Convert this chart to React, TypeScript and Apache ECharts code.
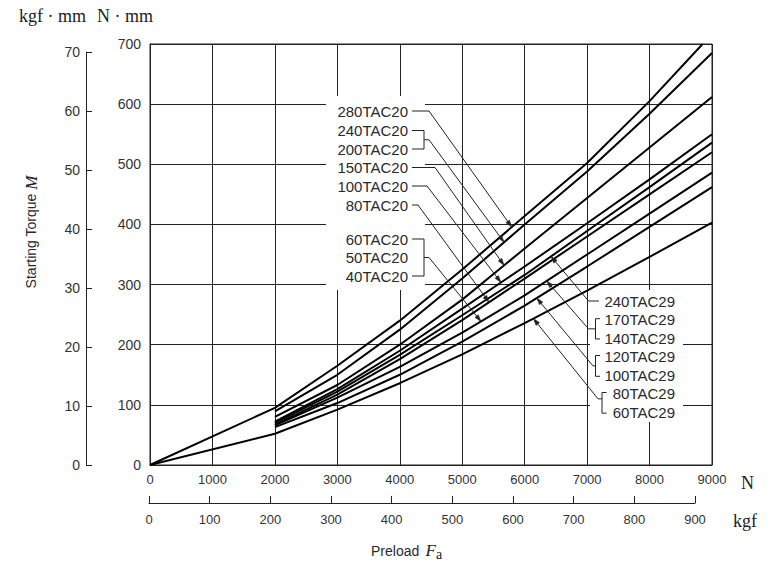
import React, { useEffect, useRef } from "react";
import * as echarts from "echarts";

// ---- data: starting torque M (N·mm) vs preload Fa (N) ----
const tac20_280: [number, number][] = [[0, 0], [2000, 95], [3000, 165], [4000, 240], [5000, 325], [6000, 414], [7000, 502], [8000, 605], [8850, 700]];
const tac20_240_200: [number, number][] = [[2000, 89], [3000, 150], [4000, 225], [5000, 310], [6000, 400], [7000, 488], [8000, 584], [9000, 685]];
const tac20_150: [number, number][] = [[2000, 80], [3000, 133], [4000, 200], [5000, 275], [6000, 360], [7000, 444], [8000, 528], [9000, 612]];
const tac20_100: [number, number][] = [[2000, 72], [3000, 126], [4000, 190], [5000, 260], [6000, 330], [7000, 402], [8000, 475], [9000, 550]];
const tac29_240: [number, number][] = [[2000, 70], [3000, 122], [4000, 183], [5000, 249], [6000, 316], [7000, 389], [8000, 462], [9000, 536]];
const tac20_80: [number, number][] = [[2000, 67], [3000, 117], [4000, 176], [5000, 241], [6000, 310], [7000, 380], [8000, 450], [9000, 520]];
const tac29_170_140: [number, number][] = [[2000, 66], [3000, 112], [4000, 163], [5000, 220], [6000, 282], [7000, 350], [8000, 418], [9000, 486]];
const tac29_120_100: [number, number][] = [[2000, 63], [3000, 103], [4000, 150], [5000, 205], [6000, 265], [7000, 330], [8000, 396], [9000, 462]];
const tac29_80_60: [number, number][] = [[0, 0], [2000, 52], [3000, 92], [4000, 136], [5000, 184], [6000, 236], [7000, 290], [8000, 346], [9000, 403]];

const curves = [
  { name: "280TAC20", data: tac20_280 },
  { name: "240TAC20/200TAC20", data: tac20_240_200 },
  { name: "150TAC20", data: tac20_150 },
  { name: "100TAC20", data: tac20_100 },
  { name: "240TAC29", data: tac29_240 },
  { name: "80TAC20", data: tac20_80 },
  { name: "170TAC29/140TAC29", data: tac29_170_140 },
  { name: "120TAC29/100TAC29", data: tac29_120_100 },
  { name: "80TAC29/60TAC29", data: tac29_80_60 },
];

// axis ranges
const forceMaxN = 9000;
const forceStepN = 1000;
const torqueMaxNmm = 700;
const torqueStepNmm = 100;
const kgfMax = 900;
const kgfStep = 100;
const kgfmmMax = 70;
const kgfmmStep = 10;

// label groups: which curve and at what preload (N) the arrow points
const leftNotes = [
  { labels: ["280TAC20"], curve: 0, n: 5793 },
  { labels: ["240TAC20", "200TAC20"], curve: 1, n: 5670 },
  { labels: ["150TAC20"], curve: 2, n: 5670 },
  { labels: ["100TAC20"], curve: 3, n: 5621 },
  { labels: ["80TAC20"], curve: 5, n: 5429 },
  { labels: ["60TAC20", "50TAC20", "40TAC20"], curve: 6, n: 5301 },
];
const rightNotes = [
  { labels: ["240TAC29"], curve: 4, n: 6422 },
  { labels: ["170TAC29", "140TAC29"], curve: 6, n: 6353 },
  { labels: ["120TAC29", "100TAC29"], curve: 7, n: 6193 },
  { labels: ["80TAC29", "60TAC29"], curve: 8, n: 6139 },
];

const SANS = '"Liberation Sans", Arial, Helvetica, sans-serif';
const SERIF = '"Liberation Serif", "Times New Roman", serif';
const INK = "#222";
const TXT = "#2a2a2a";

function valueAt(data: [number, number][], n: number): number {
  for (let i = 0; i < data.length - 1; i++) {
    const [x0, y0] = data[i];
    const [x1, y1] = data[i + 1];
    if (n >= x0 && n <= x1) return y0 + ((n - x0) / (x1 - x0)) * (y1 - y0);
  }
  return data[data.length - 1][1];
}

function arrowHead(c: number[], t: number[]) {
  const dx = t[0] - c[0];
  const dy = t[1] - c[1];
  const len = Math.hypot(dx, dy) || 1;
  const ux = dx / len, uy = dy / len;
  const bx = t[0] - ux * 7, by = t[1] - uy * 7;
  const px = -uy * 2.2, py = ux * 2.2;
  return {
    type: "polygon",
    z: 20,
    silent: true,
    shape: { points: [[t[0], t[1]], [bx + px, by + py], [bx - px, by - py]] },
    style: { fill: INK, stroke: INK, lineWidth: 0.5 },
  };
}

function line(points: number[][]) {
  return {
    type: "polyline",
    z: 20,
    silent: true,
    shape: { points },
    style: { stroke: INK, lineWidth: 1, fill: null },
  };
}

function label(text: string, x: number, y: number, align: string, extra: any = {}) {
  return {
    type: "text",
    z: 20,
    silent: true,
    x,
    y,
    style: {
      text,
      font: extra.font || `15px ${SANS}`,
      fill: extra.fill || TXT,
      align,
      textAlign: align,
      verticalAlign: "middle",
      textVerticalAlign: "middle",
    },
  };
}

const plain = (v: number) => String(v);

export default function App() {
  const ref = useRef<HTMLDivElement>(null);

  useEffect(() => {
    if (!ref.current) return;
    const chart = echarts.init(ref.current, null, { renderer: "svg" });

    const axisText = { fontFamily: SANS, color: "#333" };

    chart.setOption({
      animation: false,
      backgroundColor: "#fff",
      grid: [
        { left: 150, top: 44, width: 562, height: 421, show: true, borderColor: INK, borderWidth: 1, backgroundColor: "transparent" },
        { left: 149, top: 480, width: 546, height: 23 },
        { left: 86, top: 52.1, width: 10, height: 412.9 },
      ],
      xAxis: [
        {
          gridIndex: 0, type: "value", min: 0, max: forceMaxN, interval: forceStepN,
          axisLine: { show: true, lineStyle: { color: INK, width: 1 } },
          axisTick: { show: false },
          splitLine: { show: true, lineStyle: { color: INK, width: 1 } },
          axisLabel: { ...axisText, fontSize: 13, margin: 8, formatter: plain },
        },
        {
          gridIndex: 1, type: "value", min: 0, max: kgfMax, interval: kgfStep, position: "bottom",
          axisLine: { show: true, lineStyle: { color: INK, width: 1 } },
          axisTick: { show: true, inside: true, length: 7, lineStyle: { color: INK, width: 1 } },
          splitLine: { show: false },
          axisLabel: { ...axisText, fontSize: 13, margin: 10, formatter: plain },
        },
        { gridIndex: 2, type: "value", show: false, min: 0, max: 1 },
      ],
      yAxis: [
        {
          gridIndex: 0, type: "value", min: 0, max: torqueMaxNmm, interval: torqueStepNmm,
          axisLine: { show: true, lineStyle: { color: INK, width: 1 } },
          axisTick: { show: false },
          splitLine: { show: true, lineStyle: { color: INK, width: 1 } },
          axisLabel: { ...axisText, fontSize: 14, margin: 9, formatter: plain },
        },
        { gridIndex: 1, type: "value", show: false, min: 0, max: 1 },
        {
          gridIndex: 2, type: "value", min: 0, max: kgfmmMax, interval: kgfmmStep, position: "left",
          axisLine: { show: true, lineStyle: { color: INK, width: 1 } },
          axisTick: { show: true, inside: true, length: 6, lineStyle: { color: INK, width: 1 } },
          splitLine: { show: false },
          axisLabel: { ...axisText, fontSize: 14, margin: 6, formatter: plain },
        },
      ],
      series: curves.map((c) => ({
        name: c.name,
        type: "line",
        xAxisIndex: 0,
        yAxisIndex: 0,
        data: c.data,
        showSymbol: false,
        symbol: "none",
        silent: true,
        z: 5,
        lineStyle: { color: "#000", width: 2 },
      })),
    });

    const px = (n: number, v: number) =>
      chart.convertToPixel({ xAxisIndex: 0, yAxisIndex: 0 }, [n, v]) as number[];

    const g: any[] = [];
    // white backgrounds behind the label blocks (grid lines are interrupted there)
    g.push({ type: "rect", z: 1, silent: true, shape: { x: 326, y: 96, width: 99, height: 194 }, style: { fill: "#fff" } });
    g.push({ type: "rect", z: 1, silent: true, shape: { x: 590, y: 290, width: 93, height: 132 }, style: { fill: "#fff" } });

    // left (TAC20) labels
    const leftYs = [[111], [130.5, 149], [167.5], [186], [205], [239, 257.5, 276]];
    const leftCornerX = [429, 429, 435, 427, 418, 429];
    leftNotes.forEach((note, i) => {
      const ys = leftYs[i];
      note.labels.forEach((t, k) => g.push(label(t, 408, ys[k], "right")));
      const tip = px(note.n, valueAt(curves[note.curve].data, note.n));
      let corner: number[];
      if (ys.length > 1) {
        const y0 = ys[0], y1 = ys[ys.length - 1];
        const mid = (y0 + y1) / 2;
        g.push(line([[412, y0], [424, y0], [424, y1], [412, y1]]));
        corner = [leftCornerX[i], mid];
        g.push(line([[424, mid], corner, tip]));
      } else {
        corner = [leftCornerX[i], ys[0]];
        g.push(line([[412, ys[0]], corner, tip]));
      }
      g.push(arrowHead(corner, tip));
    });

    // right (TAC29) labels
    const rightYs = [[301], [319.7, 338], [356.5, 375.3], [393.5, 412.2]];
    rightNotes.forEach((note, i) => {
      const ys = rightYs[i];
      note.labels.forEach((t, k) => g.push(label(t, 675, ys[k], "right")));
      const tip = px(note.n, valueAt(curves[note.curve].data, note.n));
      let corner: number[];
      if (ys.length === 1) {
        corner = [588.5, ys[0]];
        g.push(line([[599, ys[0]], corner, tip]));
      } else {
        const bx = i === 3 ? 602 : 595.5;
        const y0 = ys[0] - 1, y1 = ys[1] + 1;
        const mid = (y0 + y1) / 2;
        g.push(line([[bx + 4.5, y0], [bx, y0], [bx, y1], [bx + 4.5, y1]]));
        if (i === 1) corner = [588.5, mid];
        else if (i === 2) corner = [593, mid];
        else corner = [598, mid - 4];
        g.push(line([[bx, corner[1]], corner, tip]));
      }
      g.push(arrowHead(corner, tip));
    });

    // unit & axis titles
    g.push(label("kgf · mm", 19, 15.5, "left", { font: `18px ${SERIF}`, fill: "#222" }));
    g.push(label("N · mm", 97, 15.5, "left", { font: `18px ${SERIF}`, fill: "#222" }));
    g.push(label("N", 741, 483, "left", { font: `18px ${SERIF}`, fill: "#222" }));
    g.push(label("kgf", 733, 521, "left", { font: `18px ${SERIF}`, fill: "#222" }));
    g.push(label("Preload", 371, 551, "left", { font: `14px ${SANS}` }));
    g.push(label("F", 425.5, 550, "left", { font: `italic 17px ${SERIF}`, fill: "#222" }));
    g.push(label("a", 436, 554, "left", { font: `14px ${SERIF}`, fill: "#222" }));
    g.push({
      type: "text",
      z: 20,
      silent: true,
      x: 31,
      y: 232,
      rotation: Math.PI / 2,
      style: {
        text: "{a|Starting Torque }{m|M}",
        align: "center",
        textAlign: "center",
        verticalAlign: "middle",
        textVerticalAlign: "middle",
        rich: {
          a: { fontFamily: SANS, fontSize: 14, fill: TXT, color: TXT },
          m: { fontFamily: SERIF, fontStyle: "italic", fontSize: 17, fill: "#222", color: "#222" },
        },
      },
    });

    chart.setOption({ graphic: g });

    return () => chart.dispose();
  }, []);

  return (
    <div
      ref={ref}
      style={{ position: "fixed", left: 0, top: 0, width: 777, height: 566, background: "#fff" }}
    />
  );
}
